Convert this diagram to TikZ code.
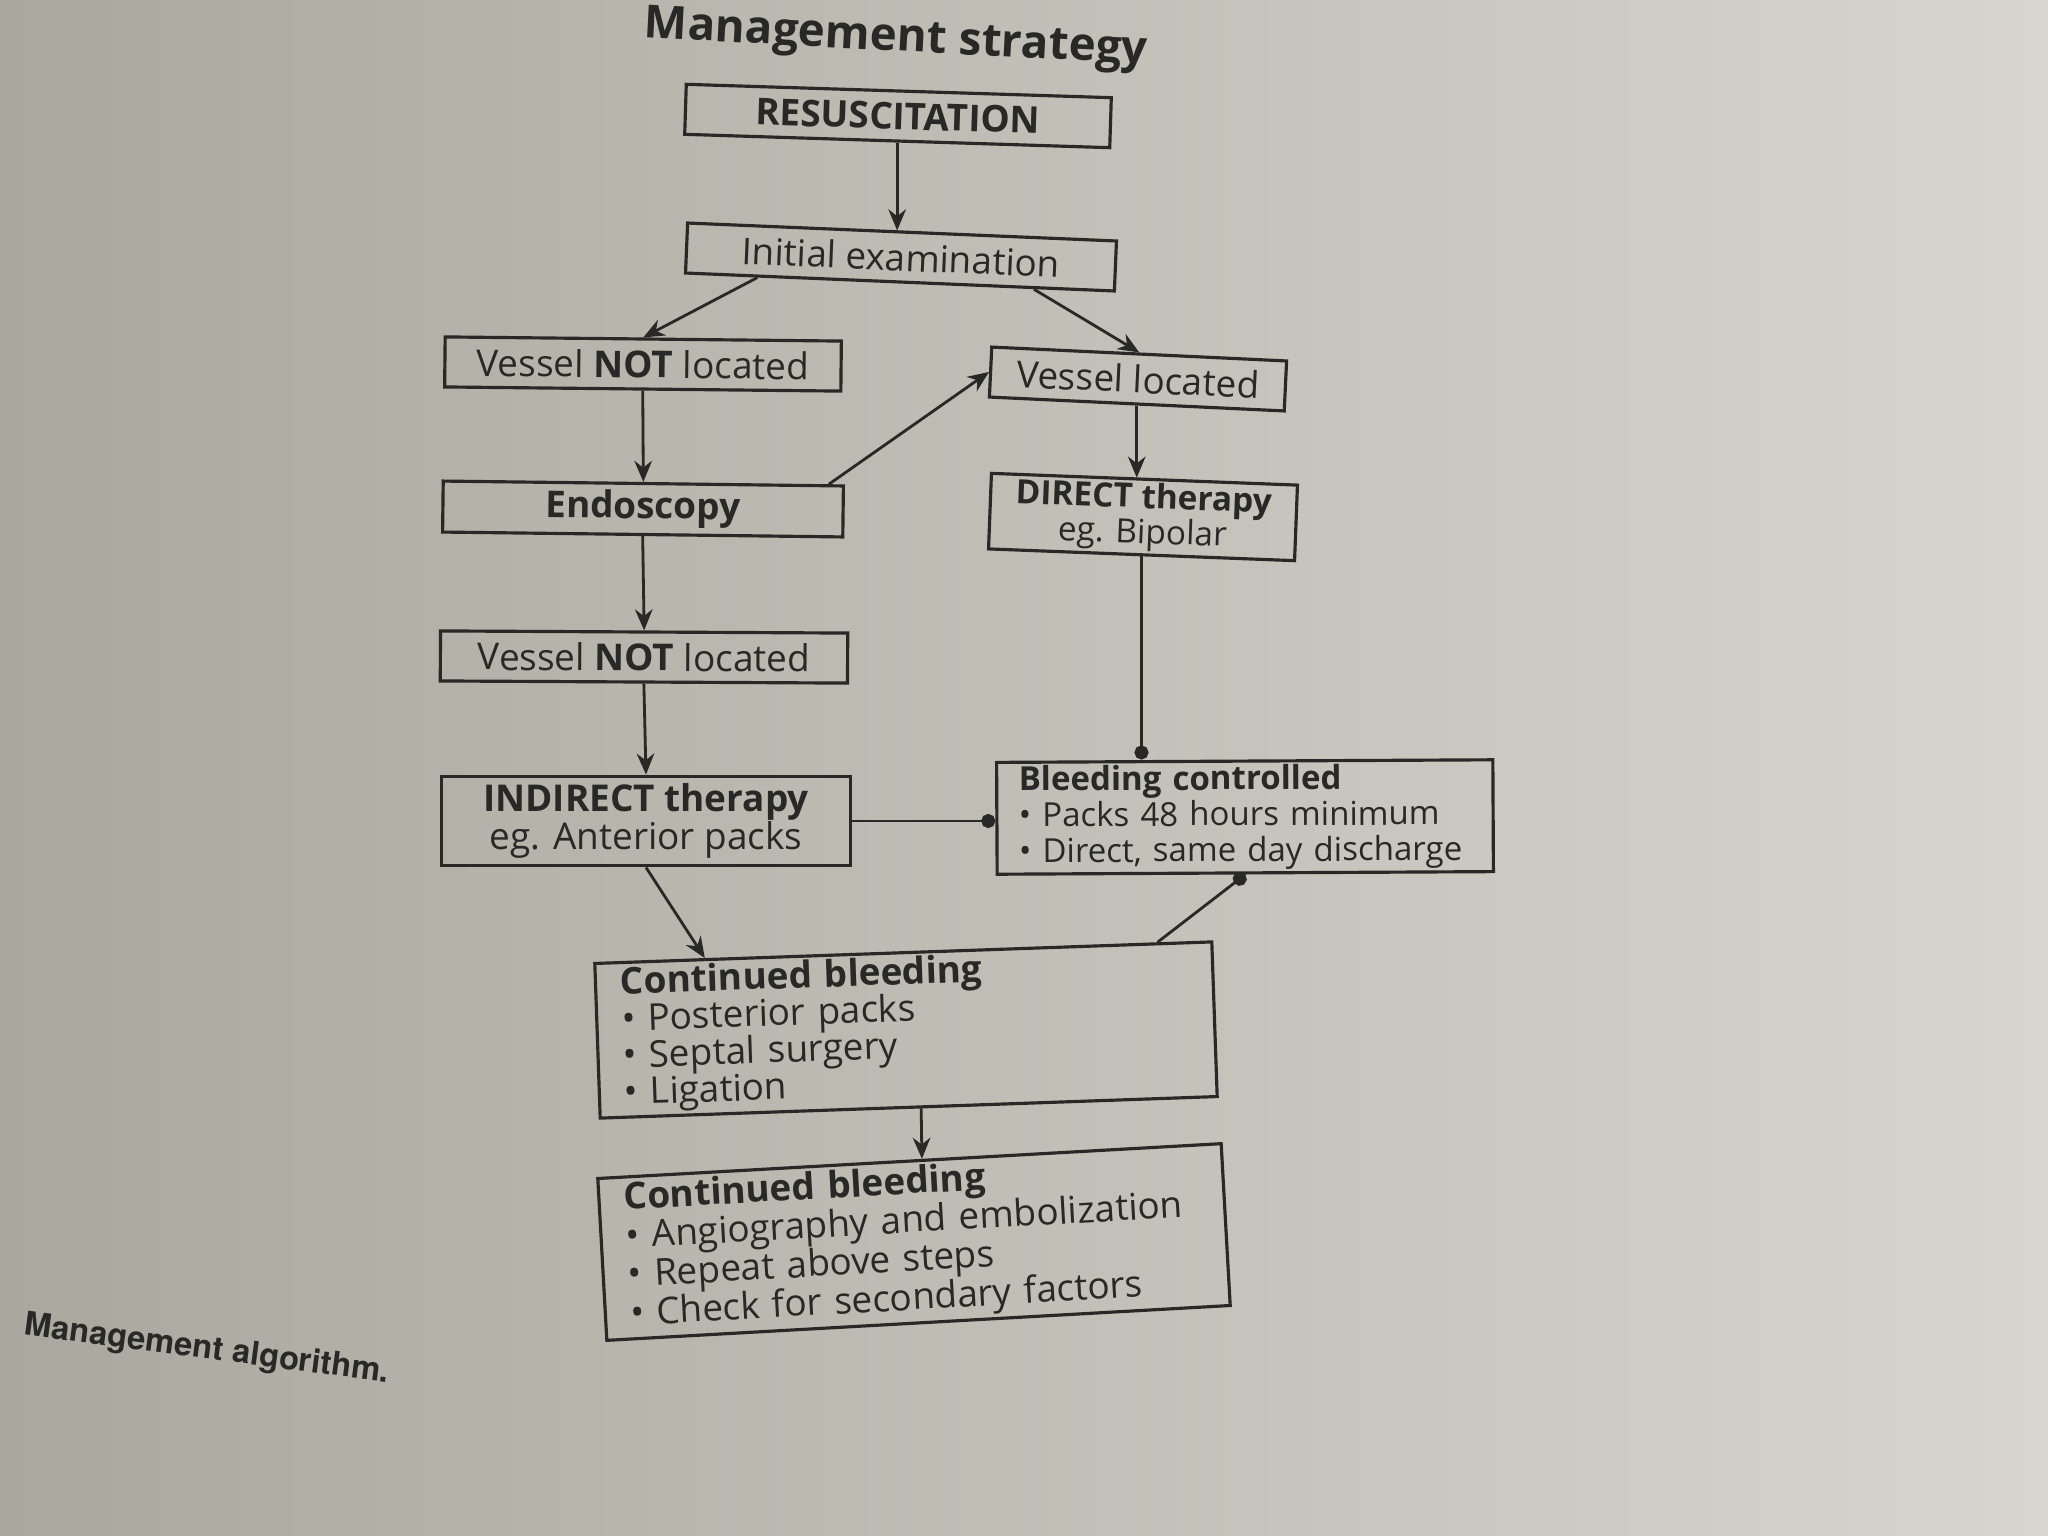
\documentclass[tikz,border=0pt]{standalone}
\usepackage{fontspec}
\setmainfont{Open Sans}
\newfontfamily\capfont{TeX Gyre Heros}
\usetikzlibrary{positioning, arrows.meta, shapes, calc}

\definecolor{paperdark}{RGB}{168,168,158}
\definecolor{paperlight}{RGB}{214,214,207}
\definecolor{ink}{RGB}{40,40,38}

\tikzset{
  box/.style={draw=ink, line width=0.9pt, text=ink, inner xsep=0.25cm, inner ysep=2pt,
    font=\fontsize{10.5}{11}\selectfont},
  flow/.style={draw=ink, line width=0.8pt, -{Stealth[length=6pt, width=5pt]}},
  blob/.style={draw=ink, line width=0.8pt, -{Circle[length=4pt]}},
}

\begin{document}
\begin{tikzpicture}[x=0.01cm, y=-0.01cm]
    % paper
    \shade[left color=paperdark, right color=paperlight] (0,0) rectangle (2048,1536);
    \useasboundingbox (0,0) rectangle (2048,1536);

    % heading
    \node[text=ink, font=\fontsize{13}{15}\selectfont\bfseries, rotate=-3] (head) at (896,40) {Management strategy};

    % boxes
    \node[box, minimum width=4.25cm, minimum height=0.5cm, rotate=-1.8, font=\fontsize{10.5}{12}\selectfont\bfseries] (resus) at (898,116) {RESUSCITATION};
    \node[box, minimum width=4.29cm, minimum height=0.5cm, rotate=-2.4] (init) at (901,257) {Initial examination};
    \node[box, minimum width=3.96cm, minimum height=0.5cm, rotate=-0.6] (vnl1) at (643,364) {Vessel \textbf{NOT} located};
    \node[box, minimum width=2.95cm, minimum height=0.5cm, rotate=-2.7] (vloc) at (1138,379) {Vessel located};
    \node[box, minimum width=4.0cm, minimum height=0.5cm, rotate=-0.7, font=\fontsize{10.5}{12}\selectfont\bfseries] (endo) at (643,509) {Endoscopy};
    \node[box, minimum width=2.96cm, minimum height=0.7cm, inner ysep=1pt, rotate=-2.2, align=center, font=\fontsize{9.5}{10}\selectfont] (direct) at (1143,517) {\textbf{DIRECT therapy}\\eg. Bipolar};
    \node[box, minimum width=4.07cm, minimum height=0.5cm, rotate=-0.3] (vnl2) at (644,657) {Vessel \textbf{NOT} located};
    \node[box, minimum width=4.09cm, minimum height=0.78cm, align=center] (indirect) at (646,821) {\textbf{INDIRECT therapy}\\eg. Anterior packs};
    \node[box, inner xsep=0.22cm, text width=4.52cm, minimum height=1.04cm, inner ysep=1pt, align=left, rotate=0.3, font=\fontsize{9.4}{10.2}\selectfont] (bleed) at (1245,817) {\textbf{Bleeding controlled}\\\textbullet\ Packs 48 hours minimum\\\textbullet\ Direct, same day discharge};
    \node[box, text width=5.67cm, minimum height=1.5cm, inner ysep=1pt, align=left, rotate=2, font=\fontsize{10.5}{10.5}\selectfont] (cont1) at (906,1030) {\textbf{Continued bleeding}\\\textbullet\ Posterior packs\\\textbullet\ Septal surgery\\\textbullet\ Ligation};
    \node[box, text width=5.74cm, minimum height=1.62cm, inner ysep=1pt, align=left, rotate=3.2, font=\fontsize{10.5}{11}\selectfont] (cont2) at (914,1242) {\textbf{Continued bleeding}\\\textbullet\ Angiography and embolization\\\textbullet\ Repeat above steps\\\textbullet\ Check for secondary factors};

    % arrows
    \draw[flow] (resus.south) -- (resus.south |- init.north);
    \draw[flow] ($(init.south west)!0.17!(init.south east)$) -- (vnl1.north);
    \draw[flow] ($(init.south west)!0.81!(init.south east)$) -- (vloc.north);
    \draw[flow] (vnl1.south) -- (endo.north);
    \draw[flow] ($(endo.north west)!0.96!(endo.north east)$) -- (vloc.west);
    \draw[flow] (vloc.south) -- (vloc.south |- direct.north);
    \draw[flow] (endo.south) -- (vnl2.north);
    \draw[flow] (vnl2.south) -- (indirect.north);
    \draw[flow] (indirect.south) -- ($(cont1.north west)!0.18!(cont1.north east)$);
    \draw[flow] ($(cont1.south west)!0.52!(cont1.south east)$) -- ($(cont2.north west)!0.52!(cont2.north east)$);

    % dot ends into the controlled box
    \draw[blob] (direct.south) -- (direct.south |- bleed.north);
    \draw[blob] (indirect.east) -- (indirect.east -| bleed.west);
    \draw[blob] ($(cont1.north west)!0.91!(cont1.north east)$) -- (bleed.south);

    % caption
    \node[text=ink, font=\capfont\fontsize{9.3}{11}\selectfont\bfseries, rotate=-7.5] (cap) at (207,1350) {Management algorithm.};
\end{tikzpicture}
\end{document}
